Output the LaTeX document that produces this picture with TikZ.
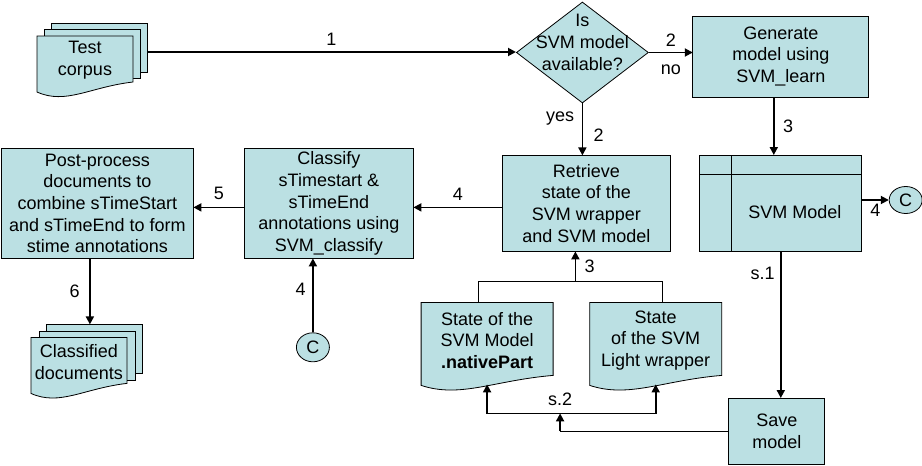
\documentclass[tikz,border=0pt]{standalone}
\usepackage{fontspec}
\setmainfont{Liberation Sans}
\usetikzlibrary{calc, positioning, shapes.geometric, backgrounds}
\usetikzlibrary{arrows.meta}
\definecolor{boxcyan}{HTML}{BBE0E3}

\newcommand{\docpath}[1]{(#1.north west) -- (#1.north east) -- ($(#1.south east)+(0,3)$)
  .. controls ($(#1.south west)!0.55!(#1.south east)+(0,-2)$) and ($(#1.south west)!0.3!(#1.south east)+(0,-20)$)
  .. ($(#1.south west)+(0,-7)$) -- cycle}

\begin{document}
\begin{tikzpicture}[x=1pt, y=1pt, font=\fontsize{18}{21.7}\selectfont,
    box/.style={draw, fill=boxcyan, line width=0.8pt, align=center, inner sep=1pt, outer sep=0pt},
    doc/.style={align=center, inner sep=1pt, outer sep=0pt},
    docfill/.style={draw, fill=boxcyan, line width=0.8pt},
    flow/.style={-{Triangle[length=8pt, width=8pt]}, line width=1.8pt},
    link/.style={line width=0.8pt}]
            \useasboundingbox (0,0) rectangle (922,-466);

            \node (corpus) [doc, minimum width=96pt, minimum height=49pt] at (85,-60.5) {Test\\corpus};
            \node (avail) [diamond, draw, fill=boxcyan, line width=0.8pt, minimum width=132pt, minimum height=101pt, inner sep=0pt,
                right=383pt of corpus, yshift=8pt,
                label={[align=center, yshift=10pt]center:{Is\\SVM model\\available?}}] {};
            \node (gen) [box, minimum width=176pt, minimum height=81pt, right=44pt of avail, yshift=-4pt] {Generate\\model using\\SVM\_learn};
            \node (model) [box, minimum width=162pt, minimum height=96pt, below=58pt of gen,
                path picture={\draw[line width=0.8pt] ([yshift=-19pt]path picture bounding box.north west) -- ([yshift=-19pt]path picture bounding box.north east)
                    ([xshift=32pt]path picture bounding box.north west) -- ([xshift=32pt]path picture bounding box.south west);},
                label={[xshift=14pt, yshift=-9pt]center:SVM Model}] {};
            \node (cright) [ellipse, draw, fill=boxcyan, line width=0.8pt, minimum width=33pt, minimum height=27pt, inner sep=0pt, right=27pt of model, yshift=3pt] {C};
            \node (retrieve) [box, minimum width=168pt, minimum height=96pt, below=52pt of avail, xshift=4pt] {Retrieve\\state of the\\SVM wrapper\\and SVM model};
            \node (classify) [box, minimum width=169pt, minimum height=110pt, left=89pt of retrieve] {Classify\\sTimestart \&\\sTimeEnd\\annotations using\\SVM\_classify};
            \node (post) [box, minimum width=192pt, minimum height=110pt, left=51pt of classify] {Post-process\\documents to\\combine sTimeStart\\and sTimeEnd to form\\stime annotations};
            \node (classified) [doc, minimum width=96pt, minimum height=49pt, below=79pt of post, xshift=-18.5pt] {Classified\\documents};
            \node (cbot) [ellipse, draw, fill=boxcyan, line width=0.8pt, minimum width=33pt, minimum height=29pt, inner sep=0pt, below=74pt of classify, xshift=-16pt] {C};
            \node (native) [doc, minimum width=132pt, minimum height=76pt, below=51pt of retrieve, xshift=-99.3pt] {State of the\\SVM Model\\\textbf{.nativePart}};
            \node (wrapper) [doc, minimum width=132pt, minimum height=76pt, right=36.6pt of native] {State\\of the SVM\\Light wrapper};
            \node (save) [box, minimum width=96pt, minimum height=66pt, below=147pt of model, xshift=-4pt] {Save\\model};

            \coordinate (corpusout) at ($(corpus.east)+(14,8.5)$);
            \coordinate (classin) at ($(classified.north)+(11,13)$);
            \coordinate (join) at ($(retrieve.south)+(-11,-30)$);
            \coordinate (bus) at ($(native.south)+(73,-35)$);

            % document shapes behind the texts
            \begin{scope}[on background layer]
                \draw[docfill] ([shift={(14,13)}]corpus.south west) rectangle ([shift={(14,13)}]corpus.north east);
                \draw[docfill] ([shift={(7,6.5)}]corpus.south west) rectangle ([shift={(7,6.5)}]corpus.north east);
                \draw[docfill] \docpath{corpus};
                \draw[docfill] ([shift={(15,13)}]classified.south west) rectangle ([shift={(15,13)}]classified.north east);
                \draw[docfill] ([shift={(8,6.5)}]classified.south west) rectangle ([shift={(8,6.5)}]classified.north east);
                \draw[docfill] \docpath{classified};
                \draw[docfill] \docpath{native};
                \draw[docfill] \docpath{wrapper};
            \end{scope}

            \draw[flow] (corpusout) -- (corpusout -| avail.west) node[midway, above=2pt] {1};
            \draw[flow] (avail.east) -- (avail.east -| gen.west) node[midway, above=2pt] {2} node[midway, below=8pt] {no};
            \draw[flow] (avail.south) -- (avail.south |- retrieve.north) node[pos=0.3, left=4pt] {yes} node[pos=0.62, right=7pt] {2};
            \draw[flow] ([xshift=-7pt]gen.south) -- ([xshift=-7pt]gen.south |- model.north) node[midway, right=5pt] {3};
            \draw[flow] (model.east |- cright.west) -- (cright.west) node[midway, below] {4};
            \draw[flow] ([yshift=-4pt]retrieve.west) -- ([yshift=-4pt]retrieve.west -| classify.east) node[midway, above=3pt] {4};
            \draw[flow] ([yshift=-4pt]classify.west) -- ([yshift=-4pt]classify.west -| post.east) node[midway, above=3pt] {5};
            \draw[flow] (post.south -| classin) -- (classin) node[midway, left=6pt] {6};
            \draw[flow] (cbot.north) -- (cbot.north |- classify.south) node[pos=0.58, left=3pt] {4};
            \draw[link] ([xshift=-9pt]native.north) |- (join) -| ([xshift=6.5pt]wrapper.north);
            \draw[flow] (join) -- (join |- retrieve.south) node[midway, right=5pt] {3};
            \draw[flow] (model.south) -- (model.south |- save.north) node[pos=0.15, left=2pt] {s.1};
            \draw[link] (save.west) -- (save.west -| bus);
            \draw[flow] (save.west -| bus) -- (bus) node[above=3pt] {s.2};
            \draw[flow] (bus) -| ([yshift=-6pt]native.south);
            \draw[flow] (bus) -| ([yshift=-6pt]wrapper.south);

            \end{tikzpicture}
\end{document}
